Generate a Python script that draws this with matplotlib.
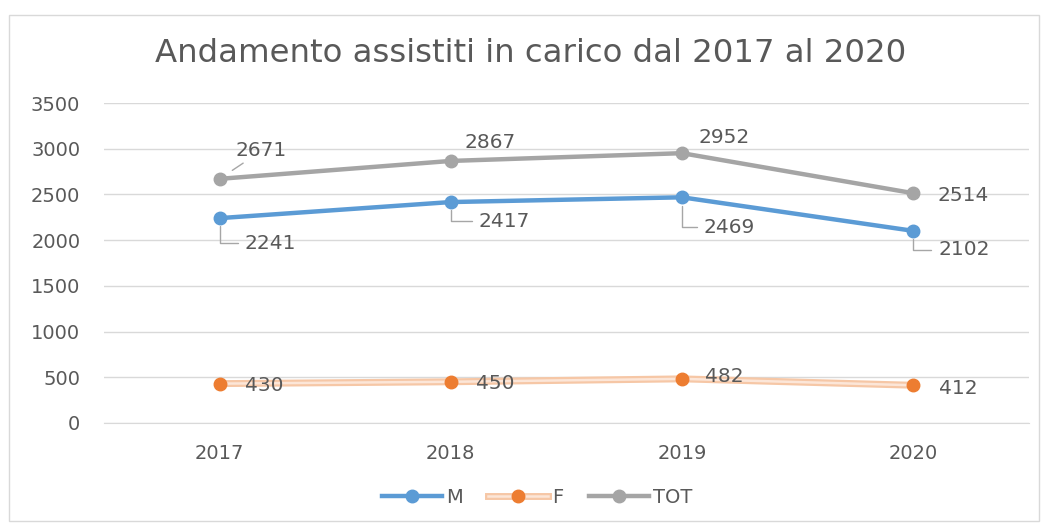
import matplotlib
matplotlib.use("Agg")
import matplotlib.pyplot as plt
from matplotlib.patches import Rectangle
from matplotlib.legend_handler import HandlerTuple

years = ["2017", "2018", "2019", "2020"]
m_vals = [2241, 2417, 2469, 2102]
f_vals = [430, 450, 482, 412]
tot_vals = [2671, 2867, 2952, 2514]

BLUE = "#5B9BD5"
ORANGE = "#ED7D31"
GRAY = "#A5A5A5"
TXT = "#595959"

plt.rcParams['font.family'] = ['DejaVu Sans']

fig = plt.figure(figsize=(10.45, 5.26), dpi=100)
ax = fig.add_axes([0.0995, 0.196, 0.885, 0.608])

# chart area border
fig.patches.append(Rectangle((0.009, 0.01), 0.985, 0.962, transform=fig.transFigure,
                             fill=False, edgecolor="#D9D9D9", linewidth=1))

x = list(range(len(years)))
m_line, = ax.plot(x, m_vals, color=BLUE, lw=3.2, marker="o", ms=9)
f_out, = ax.plot(x, f_vals, color="#F6C7A6", lw=5)
f_in, = ax.plot(x, f_vals, color="#FCE6D8", lw=1.8)
f_mk, = ax.plot(x, f_vals, ls="none", marker="o", ms=9, color=ORANGE)
tot_line, = ax.plot(x, tot_vals, color=GRAY, lw=3.2, marker="o", ms=9)

lab = dict(fontsize=14.5, color=TXT, textcoords="offset pixels", va="center")

# TOT labels
tot_off = [(42, 28), (39, 18), (42, 16), (50, -2)]
for i, v in enumerate(tot_vals):
    if i == 0:
        ax.annotate(str(v), (i, v), xytext=tot_off[i], ha="center",
                    arrowprops=dict(arrowstyle="-", color="#A6A6A6", lw=1,
                                    shrinkA=0, shrinkB=11), **lab)
    else:
        ax.annotate(str(v), (i, v), xytext=tot_off[i], ha="center", **lab)

# M labels with elbow leaders
m_off = [(25, -25), (28, -19), (22, -30), (25, -19)]
for i, v in enumerate(m_vals):
    ax.annotate(str(v), (i, v), xytext=m_off[i], ha="left",
                arrowprops=dict(arrowstyle="-", color="#A6A6A6", lw=1,
                                shrinkA=3, shrinkB=6,
                                connectionstyle="angle,angleA=0,angleB=90,rad=0"),
                **lab)

# F labels
f_off = [(45, -2), (44, -2), (42, 2), (45, -3)]
for i, v in enumerate(f_vals):
    ax.annotate(str(v), (i, v), xytext=f_off[i], ha="center", **lab)

ax.set_xlim(-0.5, 3.5)
ax.set_ylim(0, 3500)
ax.set_xticks(x)
ax.set_xticklabels(years)
ax.set_yticks(range(0, 3501, 500))
ax.tick_params(axis="both", length=0, labelsize=14, colors=TXT)
ax.tick_params(axis="x", pad=15)
ax.tick_params(axis="y", pad=17)
ax.grid(axis="y", color="#D9D9D9", lw=1)
ax.set_axisbelow(True)
for s in ["top", "right", "left"]:
    ax.spines[s].set_visible(False)
ax.spines["bottom"].set_color("#D9D9D9")

fig.text(0.508, 0.898, "Andamento assistiti in carico dal 2017 al 2020",
         ha="center", va="center", fontsize=23.3, color=TXT)

leg = fig.legend([m_line, (f_out, f_in, f_mk), tot_line], ["M", "F", "TOT"],
                 handler_map={tuple: HandlerTuple(ndivide=1)},
                 loc="center", bbox_to_anchor=(0.514, 0.055),
                 ncol=3, frameon=False, fontsize=14, handlelength=3.1,
                 columnspacing=1.3, handletextpad=0.2)
for t in leg.get_texts():
    t.set_color(TXT)

fig.savefig("out.png", dpi=100)
